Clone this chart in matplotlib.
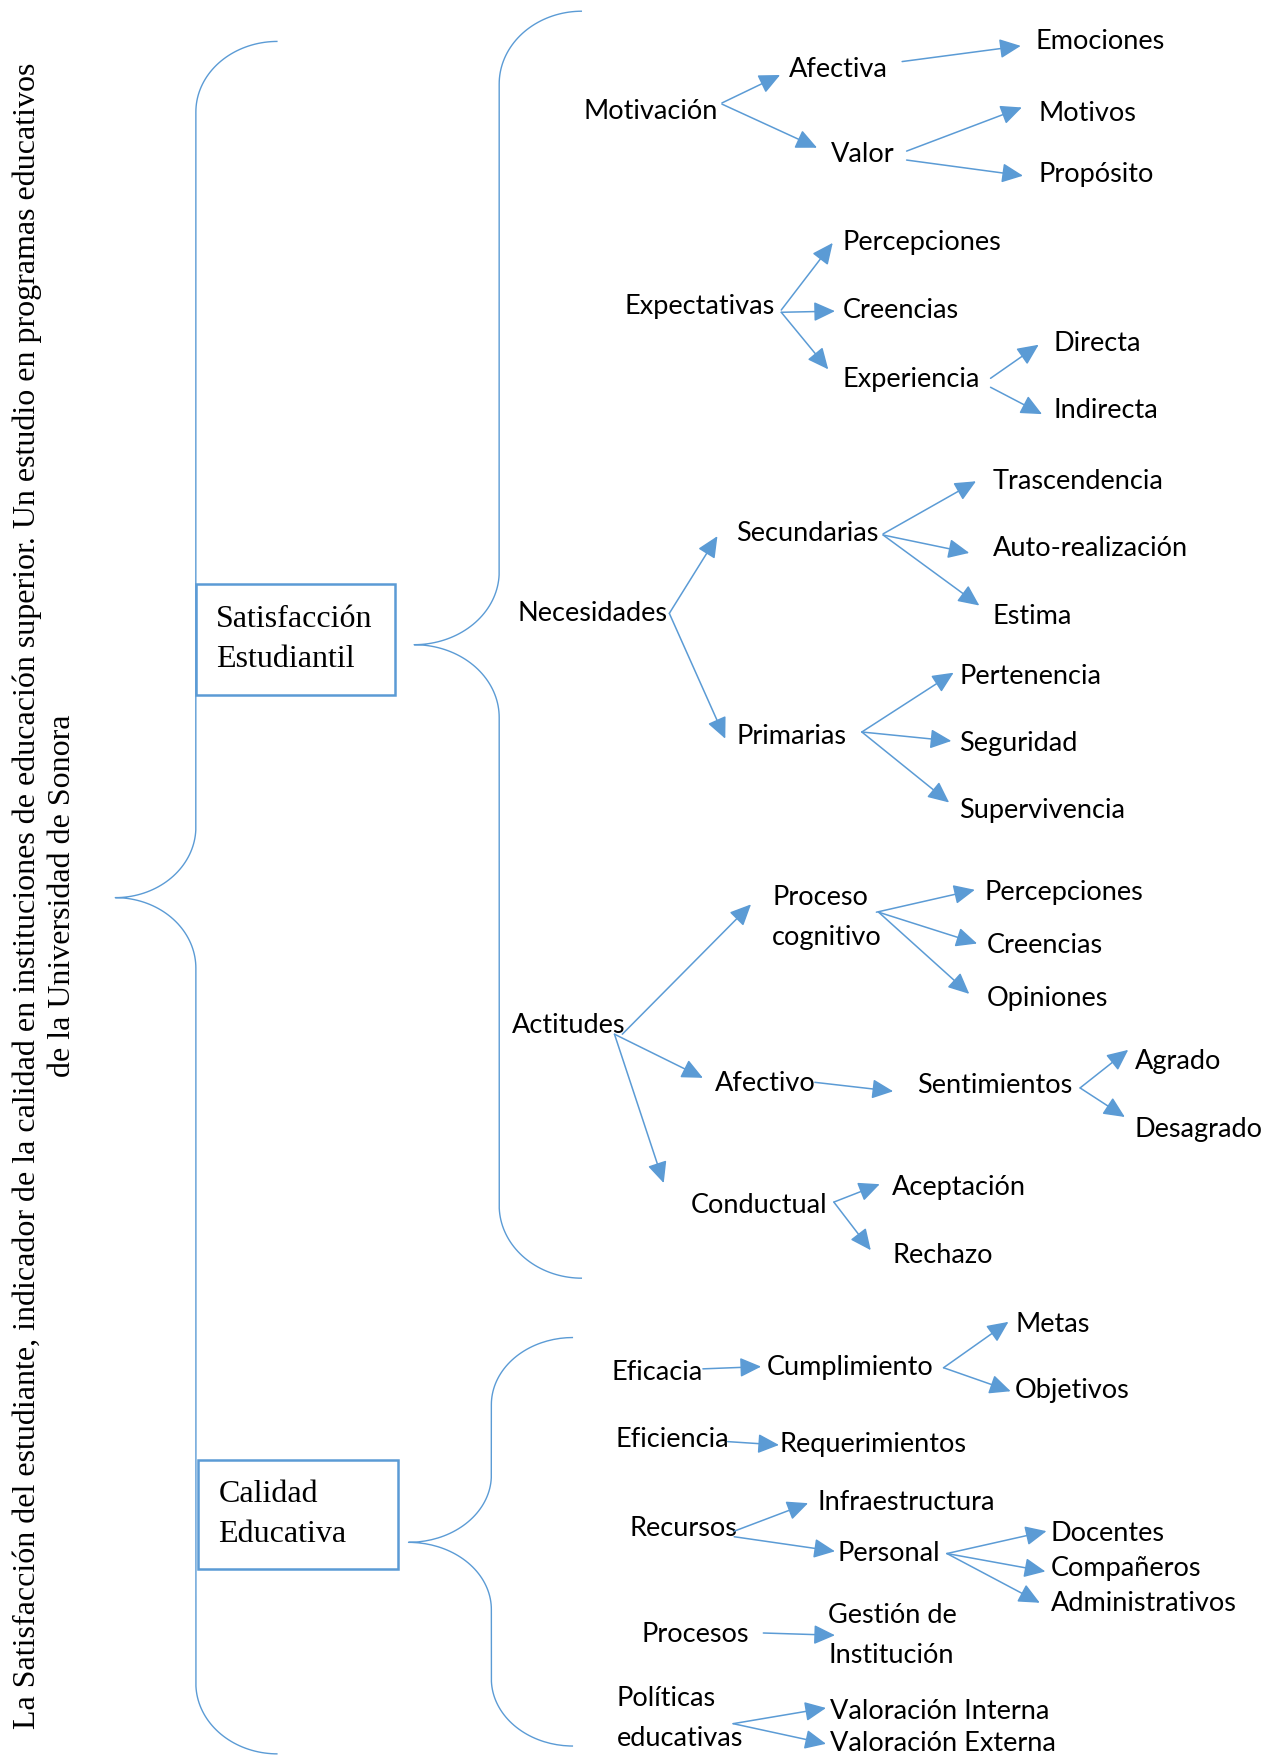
import numpy as np
import matplotlib.pyplot as plt

AZUL = "#5B9BD5"
SANS = "Lato"
SERIF = "Liberation Serif"

titulo = ("La Satisfacción del estudiante, indicador de la calidad en instituciones de "
          "educación superior. Un estudio en programas educativos\nde la Universidad de Sonora")

categorias = ["Satisfacción\nEstudiantil", "Calidad\nEducativa"]

# nodos del mapa: id -> texto
nodos = {
    "motivacion": "Motivación", "afectiva": "Afectiva", "valor": "Valor",
    "emociones": "Emociones", "motivos": "Motivos", "proposito": "Propósito",
    "expectativas": "Expectativas", "percep1": "Percepciones", "creen1": "Creencias",
    "experiencia": "Experiencia", "directa": "Directa", "indirecta": "Indirecta",
    "necesidades": "Necesidades", "secundarias": "Secundarias", "primarias": "Primarias",
    "trascendencia": "Trascendencia", "autorreal": "Auto-realización", "estima": "Estima",
    "pertenencia": "Pertenencia", "seguridad": "Seguridad", "supervivencia": "Supervivencia",
    "actitudes": "Actitudes", "cognitivo": "Proceso\ncognitivo", "percep2": "Percepciones",
    "creen2": "Creencias", "opiniones": "Opiniones", "afectivo": "Afectivo",
    "sentimientos": "Sentimientos", "agrado": "Agrado", "desagrado": "Desagrado",
    "conductual": "Conductual", "aceptacion": "Aceptación", "rechazo": "Rechazo",
    "eficacia": "Eficacia", "cumplimiento": "Cumplimiento", "metas": "Metas",
    "objetivos": "Objetivos", "eficiencia": "Eficiencia", "requerimientos": "Requerimientos",
    "recursos": "Recursos", "infraestructura": "Infraestructura", "personal": "Personal",
    "docentes": "Docentes", "companeros": "Compañeros", "administrativos": "Administrativos",
    "procesos": "Procesos", "gestion": "Gestión de\nInstitución",
    "politicas": "Políticas\neducativas", "val_int": "Valoración Interna",
    "val_ext": "Valoración Externa",
}

# posicion (izquierda, centro vertical) de cada texto
pos = {
    "motivacion": (521, 100), "afectiva": (705, 62), "valor": (742, 138),
    "emociones": (925, 37), "motivos": (928, 101), "proposito": (928, 156),
    "expectativas": (558, 274), "percep1": (753, 217), "creen1": (753, 277),
    "experiencia": (753, 339), "directa": (941, 307), "indirecta": (941, 367),
    "necesidades": (462, 548), "secundarias": (658, 477), "primarias": (658, 658),
    "trascendencia": (887, 430), "autorreal": (887, 490), "estima": (887, 551),
    "pertenencia": (857, 604), "seguridad": (857, 664), "supervivencia": (857, 724),
    "actitudes": (457, 916), "cognitivo": (690, 820), "percep2": (880, 797),
    "creen2": (882, 845), "opiniones": (882, 892), "afectivo": (639, 968),
    "sentimientos": (819, 970), "agrado": (1014, 948), "desagrado": (1014, 1009),
    "conductual": (617, 1077), "aceptacion": (797, 1061), "rechazo": (797, 1122),
    "eficacia": (546, 1226), "cumplimiento": (685, 1222), "metas": (907, 1183),
    "objetivos": (907, 1242), "eficiencia": (550, 1286), "requerimientos": (696, 1291),
    "recursos": (562, 1366), "infraestructura": (730, 1342), "personal": (748, 1388),
    "docentes": (939, 1370), "companeros": (939, 1401), "administrativos": (939, 1433),
    "procesos": (573, 1460), "gestion": (740, 1461),
    "politicas": (551, 1535), "val_int": (742, 1529), "val_ext": (742, 1558),
}

# flechas: (origen, destino) -> puntos de inicio y fin
flechas = {
    ("motivacion", "afectiva"): ((645, 92), (697, 67)),
    ("motivacion", "valor"): ((645, 93), (730, 132)),
    ("afectiva", "emociones"): ((806, 55), (912, 41)),
    ("valor", "motivos"): ((810, 135), (913, 96)),
    ("valor", "proposito"): ((810, 143), (914, 157)),
    ("expectativas", "percep1"): ((698, 277), (744, 217)),
    ("expectativas", "creen1"): ((698, 279), (746, 278)),
    ("expectativas", "experiencia"): ((698, 279), (740, 330)),
    ("experiencia", "directa"): ((885, 338), (928, 308)),
    ("experiencia", "indirecta"): ((885, 346), (931, 370)),
    ("necesidades", "secundarias"): ((598, 548), (641, 479)),
    ("necesidades", "primarias"): ((598, 548), (648, 660)),
    ("secundarias", "trascendencia"): ((789, 477), (872, 430)),
    ("secundarias", "autorreal"): ((789, 478), (866, 494)),
    ("secundarias", "estima"): ((789, 478), (875, 541)),
    ("primarias", "pertenencia"): ((770, 654), (852, 601)),
    ("primarias", "seguridad"): ((770, 654), (850, 662)),
    ("primarias", "supervivencia"): ((770, 654), (848, 717)),
    ("actitudes", "cognitivo"): ((556, 924), (671, 808)),
    ("actitudes", "afectivo"): ((549, 924), (628, 963)),
    ("actitudes", "conductual"): ((549, 924), (593, 1057)),
    ("cognitivo", "percep2"): ((783, 815), (871, 795)),
    ("cognitivo", "creen2"): ((785, 815), (873, 843)),
    ("cognitivo", "opiniones"): ((785, 815), (866, 888)),
    ("afectivo", "sentimientos"): ((728, 967), (798, 975)),
    ("sentimientos", "agrado"): ((965, 972), (1008, 938)),
    ("sentimientos", "desagrado"): ((965, 972), (1005, 998)),
    ("conductual", "aceptacion"): ((745, 1074), (786, 1058)),
    ("conductual", "rechazo"): ((745, 1074), (778, 1117)),
    ("eficacia", "cumplimiento"): ((628, 1223), (680, 1221)),
    ("cumplimiento", "metas"): ((843, 1222), (901, 1181)),
    ("cumplimiento", "objetivos"): ((843, 1222), (903, 1243)),
    ("eficiencia", "requerimientos"): ((650, 1288), (696, 1291)),
    ("recursos", "infraestructura"): ((656, 1368), (722, 1343)),
    ("recursos", "personal"): ((656, 1373), (746, 1386)),
    ("personal", "docentes"): ((846, 1388), (935, 1368)),
    ("personal", "companeros"): ((846, 1388), (934, 1404)),
    ("personal", "administrativos"): ((846, 1388), (929, 1432)),
    ("procesos", "gestion"): ((682, 1459), (746, 1461)),
    ("politicas", "val_int"): ((655, 1540), (738, 1526)),
    ("politicas", "val_ext"): ((655, 1540), (738, 1558)),
}

# llaves: (x extremo, x vertical, x punta, y arriba, y punta, y abajo, radio)
llaves = [
    (248, 175, 103, 37, 802, 1567, 63),
    (520, 446, 370, 10, 576, 1142, 65),
    (512, 439, 365, 1195, 1378, 1560, 60),
]

# cajas: (x, y, ancho, alto)
cajas = [(175, 522, 178, 99), (177, 1304, 179, 98)]


def arco(cx, cy, rx, ry, a0, a1, n=40):
    t = np.linspace(np.radians(a0), np.radians(a1), n)
    return cx + rx * np.cos(t), cy + ry * np.sin(t)


def dibujar_llave(ax, xe, xv, xt, yt, yp, yb, r):
    xs, ys = [], []
    # esquina superior
    x, y = arco(xe, yt + r, xe - xv, r, 270, 180)
    xs += list(x); ys += list(y)
    # hacia la punta
    x, y = arco(xt, yp - r, xv - xt, r, 0, 90)
    xs += list(x); ys += list(y)
    x, y = arco(xt, yp + r, xv - xt, r, 270, 360)
    xs += list(x); ys += list(y)
    # esquina inferior
    x, y = arco(xe, yb - r, xe - xv, r, 180, 90)
    xs += list(x); ys += list(y)
    ax.plot(xs, ys, color=AZUL, lw=1.0, solid_capstyle="butt")


fig = plt.figure(figsize=(12.67, 17.55), dpi=100)
ax = fig.add_axes([0, 0, 1, 1])
ax.set_xlim(0, 1132)
ax.set_ylim(1568, 0)
ax.axis("off")

ax.text(40, 800, titulo, rotation=90, ha="center", va="center", multialignment="center",
        fontsize=23, family=SERIF, linespacing=1.3)

for ll in llaves:
    dibujar_llave(ax, *ll)

for (x, y, w, h), txt in zip(cajas, categorias):
    ax.add_patch(plt.Rectangle((x, y), w, h, facecolor="white", edgecolor=AZUL, lw=1.8, zorder=3))
    ax.text(x + 18, y + h / 2, txt, ha="left", va="center", fontsize=23, family=SERIF,
            linespacing=1.5, zorder=4)

for clave, txt in nodos.items():
    x, y = pos[clave]
    ax.text(x, y, txt, ha="left", va="center", fontsize=19.5, family=SANS, linespacing=1.75)

for (a, b), (p0, p1) in flechas.items():
    ax.annotate("", xy=p1, xytext=p0,
                arrowprops=dict(arrowstyle="-|>,head_length=0.65,head_width=0.3",
                                color=AZUL, lw=1.1, shrinkA=0, shrinkB=0, mutation_scale=20))

fig.savefig("out.png", dpi=100)
